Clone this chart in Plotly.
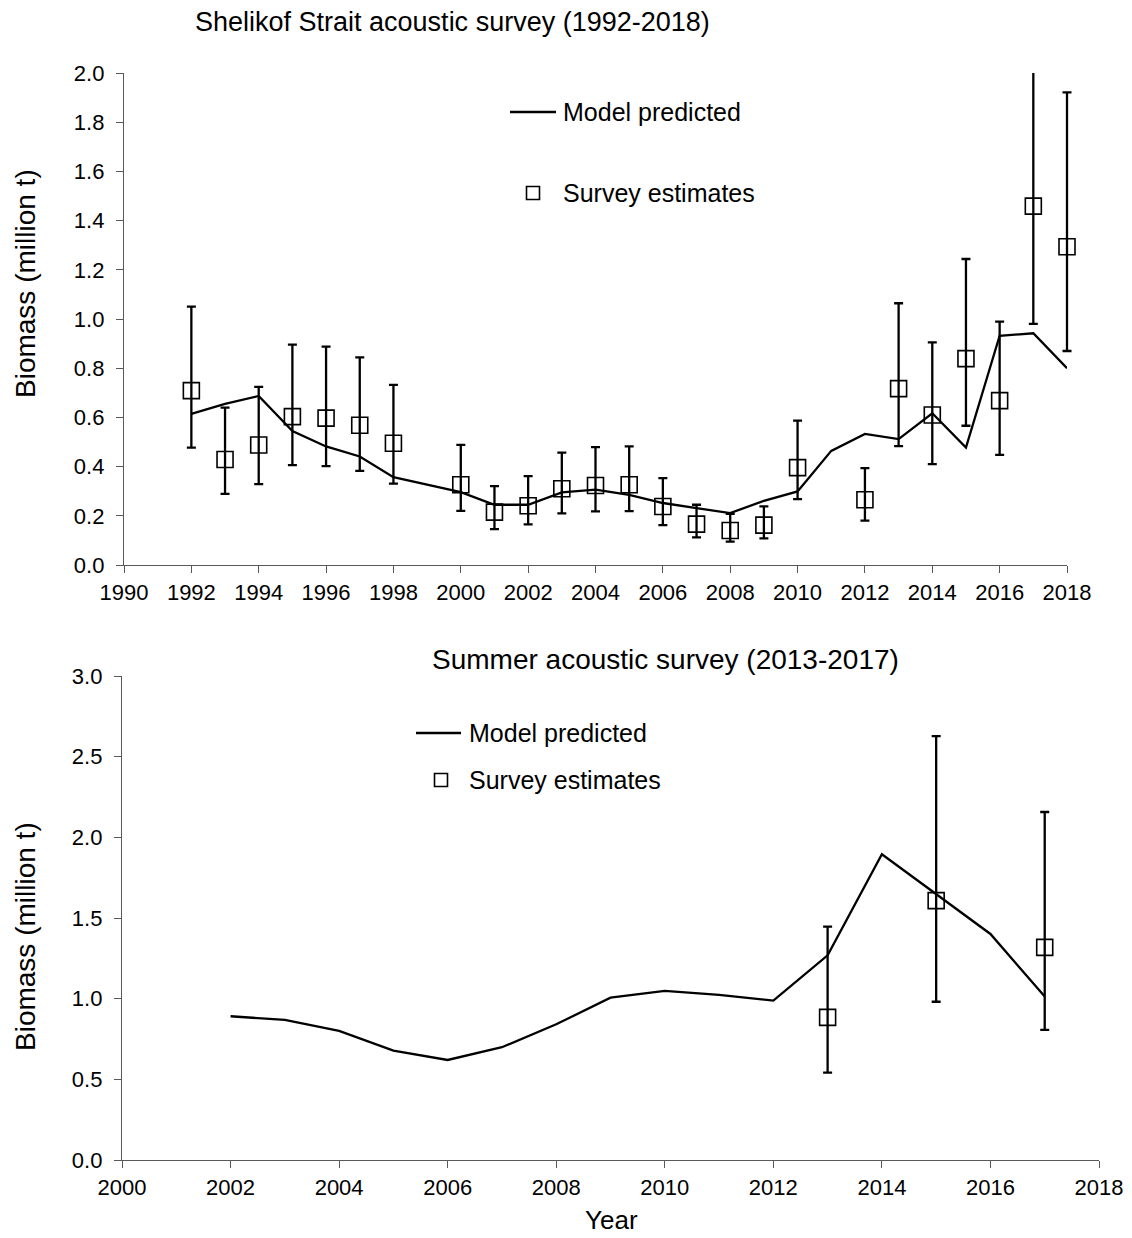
import plotly.graph_objects as go

# ---------------- Data: Shelikof Strait acoustic survey ----------------
model_years_1 = list(range(1992, 2019))
model_pred_1 = [0.614, 0.655, 0.687, 0.545, 0.482, 0.441, 0.357, 0.326, 0.296, 0.245,
                0.245, 0.295, 0.306, 0.285, 0.252, 0.231, 0.211, 0.261, 0.299, 0.464,
                0.533, 0.512, 0.617, 0.477, 0.932, 0.942, 0.800]

survey_years_1 = [1992, 1993, 1994, 1995, 1996, 1997, 1998, 2000, 2001, 2002, 2003,
                  2004, 2005, 2006, 2007, 2008, 2009, 2010, 2012, 2013, 2014, 2015,
                  2016, 2017, 2018]
survey_est_1 = [0.709, 0.429, 0.488, 0.603, 0.597, 0.568, 0.495, 0.326, 0.215, 0.241,
                0.310, 0.323, 0.326, 0.238, 0.166, 0.140, 0.162, 0.396, 0.265, 0.717,
                0.610, 0.839, 0.668, 1.459, 1.294]
survey_lo_1 = [0.477, 0.289, 0.329, 0.406, 0.402, 0.383, 0.331, 0.220, 0.146, 0.165,
               0.210, 0.218, 0.219, 0.162, 0.112, 0.095, 0.108, 0.268, 0.180, 0.483,
               0.410, 0.566, 0.448, 0.980, 0.870]
survey_hi_1 = [1.050, 0.640, 0.724, 0.896, 0.888, 0.844, 0.732, 0.488, 0.321, 0.361,
               0.457, 0.479, 0.482, 0.353, 0.245, 0.208, 0.238, 0.587, 0.394, 1.064,
               0.905, 1.244, 0.989, 2.150, 1.921]

# ---------------- Data: Summer acoustic survey ----------------
model_years_2 = list(range(2002, 2018))
model_pred_2 = [0.891, 0.868, 0.800, 0.678, 0.620, 0.699, 0.841, 1.006, 1.048, 1.023,
                0.988, 1.269, 1.895, 1.649, 1.401, 1.013]

survey_years_2 = [2013, 2015, 2017]
survey_est_2 = [0.884, 1.608, 1.318]
survey_lo_2 = [0.541, 0.981, 0.806]
survey_hi_2 = [1.447, 2.627, 2.157]

# ---------------- Figure ----------------
OFF = 8  # page body margin
W, H = 1132 - OFF, 1238 - OFF
FONT = "Arial, Liberation Sans, sans-serif"
AX = "#595959"


def px(x):
    return (x - OFF) / W


def py(y):
    return 1 - (y - OFF) / H


X1_RANGE = [1990, 2018]
X1_DOM_PX = [124, 1067]
EXTRA = 0.5  # years of extra room so the last error bar is not clipped at the right edge
x3_end_px = X1_DOM_PX[1] + (X1_DOM_PX[1] - X1_DOM_PX[0]) / (X1_RANGE[1] - X1_RANGE[0]) * EXTRA

fig = go.Figure()

fig.add_trace(go.Scatter(
    x=model_years_1, y=model_pred_1, mode="lines",
    line=dict(color="black", width=2.3), xaxis="x", yaxis="y",
    showlegend=False, name="Model predicted"))
fig.add_trace(go.Scatter(
    x=survey_years_1, y=survey_est_1, mode="markers", cliponaxis=False,
    marker=dict(symbol="square-open", size=16, color="black", line=dict(width=1.6)),
    error_y=dict(type="data", symmetric=False,
                 array=[h - v for h, v in zip(survey_hi_1, survey_est_1)],
                 arrayminus=[v - l for v, l in zip(survey_est_1, survey_lo_1)],
                 color="black", thickness=2.3, width=4.5),
    xaxis="x3", yaxis="y3", showlegend=False, name="Survey estimates"))

fig.add_trace(go.Scatter(
    x=model_years_2, y=model_pred_2, mode="lines",
    line=dict(color="black", width=2.3), xaxis="x2", yaxis="y2",
    showlegend=False, name="Model predicted"))
fig.add_trace(go.Scatter(
    x=survey_years_2, y=survey_est_2, mode="markers", cliponaxis=False,
    marker=dict(symbol="square-open", size=16, color="black", line=dict(width=1.6)),
    error_y=dict(type="data", symmetric=False,
                 array=[h - v for h, v in zip(survey_hi_2, survey_est_2)],
                 arrayminus=[v - l for v, l in zip(survey_est_2, survey_lo_2)],
                 color="black", thickness=2.3, width=4.5),
    xaxis="x2", yaxis="y2", showlegend=False, name="Survey estimates"))

axis_common = dict(showline=True, linecolor=AX, linewidth=1.3, ticks="outside",
                   ticklen=7, tickcolor=AX, tickwidth=1.3, showgrid=False,
                   zeroline=False, automargin=False,
                   tickfont=dict(family=FONT, size=22, color="black"))

fig.update_layout(
    template="none",
    width=W, height=H, margin=dict(l=0, r=0, t=0, b=0, pad=0),
    paper_bgcolor="white", plot_bgcolor="rgba(0,0,0,0)", showlegend=False,
    font=dict(family=FONT, color="black"),
    xaxis=dict(domain=[px(X1_DOM_PX[0]), px(X1_DOM_PX[1])], range=X1_RANGE, dtick=2,
               tick0=1990, anchor="y", **axis_common),
    yaxis=dict(domain=[py(565), py(73)], range=[0, 2.0], dtick=0.2, tickformat=".1f",
               anchor="x", ticklabelstandoff=7, **axis_common),
    xaxis3=dict(domain=[px(X1_DOM_PX[0]), px(x3_end_px)],
                range=[X1_RANGE[0], X1_RANGE[1] + EXTRA], visible=False, anchor="y3",
                showgrid=False, zeroline=False, automargin=False),
    yaxis3=dict(domain=[py(565), py(73)], range=[0, 2.0], visible=False, anchor="x3",
                showgrid=False, zeroline=False, automargin=False),
    xaxis2=dict(domain=[px(122), px(1099)], range=[2000, 2018], dtick=2, tick0=2000,
                anchor="y2", **axis_common),
    yaxis2=dict(domain=[py(1160), py(676)], range=[0, 3.0], dtick=0.5, tickformat=".1f",
                anchor="x2", ticklabelstandoff=7, **axis_common),
)

ann = []
# Titles
ann.append(dict(text="Shelikof Strait acoustic survey (1992-2018)", x=px(453), y=py(22),
                xref="paper", yref="paper", showarrow=False, xanchor="center", yanchor="middle",
                font=dict(family=FONT, size=27, color="black")))
ann.append(dict(text="Summer acoustic survey (2013-2017)", x=px(666), y=py(660),
                xref="paper", yref="paper", showarrow=False, xanchor="center", yanchor="middle",
                font=dict(family=FONT, size=28, color="black")))
# Axis titles
for yc in (284, 937):
    ann.append(dict(text="Biomass (million t)", x=px(25), y=py(yc), xref="paper", yref="paper",
                    showarrow=False, textangle=-90, xanchor="center", yanchor="middle",
                    font=dict(family=FONT, size=28, color="black")))
ann.append(dict(text="Year", x=px(611), y=py(1220), xref="paper", yref="paper",
                showarrow=False, xanchor="center", yanchor="middle",
                font=dict(family=FONT, size=26, color="black")))
# Legend texts
for (tx, ty, t) in [(561, 112, "Model predicted"), (561, 193, "Survey estimates"),
                    (467, 733, "Model predicted"), (467, 780, "Survey estimates")]:
    ann.append(dict(text=t, x=px(tx), y=py(ty), xref="paper", yref="paper", showarrow=False,
                    xanchor="left", yanchor="middle",
                    font=dict(family=FONT, size=25, color="black")))
fig.update_layout(annotations=ann)

# Legend keys
shapes = []
for (x0, x1, yy) in [(510, 556, 112), (416, 461, 733)]:
    shapes.append(dict(type="line", xref="paper", yref="paper", x0=px(x0), x1=px(x1),
                       y0=py(yy), y1=py(yy), line=dict(color="black", width=2.3)))
for (cx, cy) in [(533, 193), (441, 780)]:
    s = 6.5
    shapes.append(dict(type="rect", xref="paper", yref="paper", x0=px(cx - s), x1=px(cx + s),
                       y0=py(cy + s), y1=py(cy - s), line=dict(color="black", width=1.6)))
fig.update_layout(shapes=shapes)

fig.write_html("out.html")
